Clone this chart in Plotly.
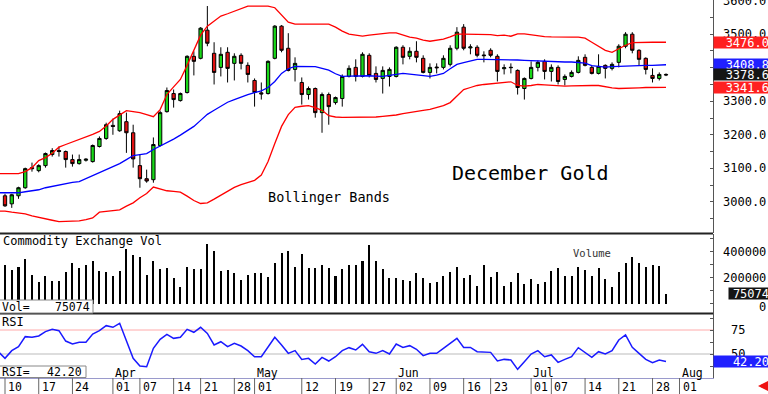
import pandas as pd
import plotly.graph_objects as go

# ---------------- calendar ----------------
holidays = ["2025-04-18", "2025-05-26", "2025-06-19", "2025-07-04"]
sessions = [d.strftime("%Y-%m-%d") for d in pd.bdate_range("2025-03-07", "2025-08-01")
            if d.strftime("%Y-%m-%d") not in holidays]
pos = {d: i for i, d in enumerate(sessions)}
line_dates = sessions[:100]   # Mar 07 .. Jul 30 (indicator lines)
bar_dates = sessions[1:100]   # Mar 10 .. Jul 30 (candles / volume)

# ---------------- data ----------------
opens = [3018, 2994, 3018, 3042, 3102, 3093, 3108, 3141, 3153, 3150,
         3126, 3114, 3124, 3120, 3165, 3189, 3228, 3212, 3239, 3206,
         3108, 3069, 3066, 3168, 3269, 3323, 3302, 3326, 3434, 3428,
         3512, 3443, 3401, 3446, 3413, 3437, 3407, 3362, 3325, 3323,
         3428, 3524, 3458, 3395, 3356, 3320, 3338, 3266, 3320, 3296,
         3308, 3374, 3401, 3374, 3437, 3383, 3368, 3374, 3374, 3461,
         3434, 3449, 3428, 3386, 3402, 3401, 3410, 3458, 3521, 3459,
         3461, 3438, 3452, 3434, 3397, 3400, 3392, 3338, 3368, 3401,
         3419, 3389, 3401, 3365, 3374, 3386, 3431, 3401, 3383, 3407,
         3398, 3416, 3464, 3500, 3452, 3428, 3377, 3368, 3380]
highs = [3024, 3024, 3045, 3102, 3117, 3112, 3147, 3160, 3165, 3153,
         3141, 3141, 3130, 3171, 3195, 3236, 3248, 3272, 3266, 3230,
         3141, 3096, 3192, 3272, 3341, 3335, 3326, 3437, 3449, 3521,
         3584, 3476, 3461, 3461, 3443, 3443, 3416, 3368, 3356, 3422,
         3527, 3527, 3503, 3431, 3371, 3344, 3341, 3326, 3326, 3314,
         3380, 3407, 3425, 3446, 3443, 3404, 3404, 3401, 3464, 3467,
         3461, 3479, 3437, 3413, 3413, 3437, 3467, 3521, 3530, 3470,
         3467, 3449, 3458, 3440, 3410, 3413, 3395, 3371, 3419, 3422,
         3425, 3410, 3407, 3380, 3392, 3434, 3440, 3407, 3440, 3410,
         3416, 3470, 3506, 3506, 3455, 3431, 3398, 3386, 3383]
lows = [2985, 2982, 3009, 3039, 3090, 3088, 3102, 3135, 3135, 3102,
        3105, 3111, 3120, 3117, 3162, 3185, 3200, 3209, 3146, 3102,
        3042, 3057, 3057, 3165, 3266, 3281, 3299, 3323, 3377, 3425,
        3464, 3350, 3374, 3356, 3362, 3395, 3356, 3284, 3305, 3320,
        3425, 3446, 3389, 3359, 3290, 3305, 3251, 3206, 3230, 3290,
        3284, 3371, 3359, 3371, 3371, 3356, 3323, 3344, 3371, 3410,
        3425, 3416, 3383, 3368, 3383, 3395, 3404, 3452, 3452, 3440,
        3431, 3416, 3431, 3359, 3380, 3383, 3320, 3305, 3365, 3389,
        3365, 3359, 3350, 3347, 3371, 3383, 3404, 3380, 3380, 3368,
        3392, 3401, 3458, 3443, 3407, 3380, 3356, 3362, 3375]
closes = [2988, 3021, 3042, 3099, 3099, 3108, 3144, 3153, 3150, 3126,
          3114, 3126, 3127, 3168, 3189, 3230, 3225, 3263, 3206, 3128,
          3069, 3062, 3171, 3266, 3332, 3305, 3323, 3434, 3419, 3518,
          3473, 3386, 3440, 3398, 3434, 3413, 3380, 3326, 3322, 3419,
          3524, 3452, 3392, 3413, 3320, 3338, 3266, 3320, 3284, 3311,
          3374, 3398, 3374, 3440, 3377, 3365, 3392, 3395, 3461, 3431,
          3449, 3431, 3386, 3401, 3400, 3428, 3458, 3506, 3458, 3462,
          3437, 3436, 3437, 3389, 3400, 3401, 3341, 3368, 3401, 3416,
          3389, 3401, 3359, 3374, 3386, 3422, 3407, 3383, 3404, 3398,
          3410, 3464, 3500, 3452, 3425, 3395, 3368, 3380, 3378.6]
volume = [296000, 258000, 283000, 342000, 219000, 163000, 212000, 173000, 173000, 245000,
          309000, 275000, 298000, 329000, 250000, 245000, 214000, 250000, 419000, 373000,
          360000, 219000, 327000, 263000, 271000, 199000, 129000, 278000, 263000, 263000,
          458000, 404000, 252000, 258000, 232000, 181000, 219000, 237000, 232000, 206000,
          309000, 386000, 406000, 283000, 381000, 271000, 271000, 294000, 275000, 214000,
          263000, 294000, 296000, 329000, 450000, 327000, 263000, 194000, 194000, 181000,
          176000, 237000, 199000, 160000, 168000, 214000, 245000, 283000, 199000, 219000,
          135000, 296000, 206000, 245000, 135000, 168000, 237000, 150000, 186000, 148000,
          168000, 252000, 271000, 214000, 214000, 278000, 258000, 212000, 271000, 186000,
          129000, 240000, 309000, 360000, 309000, 283000, 296000, 291000, 75074]
rsi = [52.5,
       45.5, 53.5, 57.6, 68.1, 67.4, 68.8, 73.3, 75.7, 74.3, 63.5,
       60.4, 62.2, 62.2, 70.8, 74.3, 79.5, 77.8, 82.0, 64.6, 45.5,
       37.5, 36.8, 55.9, 65.3, 70.5, 66.3, 67.4, 75.7, 72.6, 77.8,
       71.5, 59.4, 62.8, 57.6, 61.1, 58.3, 53.5, 47.2, 47.2, 56.9,
       67.4, 59.4, 50.7, 53.5, 44.4, 45.5, 39.6, 46.5, 42.7, 47.2,
       53.5, 56.6, 54.2, 60.1, 52.4, 50.7, 53.5, 50.0, 60.4, 56.9,
       58.7, 54.9, 48.3, 50.7, 50.7, 55.9, 61.1, 66.3, 56.9, 56.9,
       52.4, 52.4, 51.7, 42.7, 44.4, 43.8, 34.0, 42.0, 50.0, 53.5,
       47.2, 49.0, 41.3, 44.4, 47.2, 56.6, 51.7, 46.5, 52.4, 50.0,
       53.5, 64.6, 69.8, 56.9, 50.7, 44.4, 41.0, 43.8, 42.2]
bb_upper = [3084,
            3084, 3084, 3084, 3090, 3102, 3123, 3132, 3145, 3163, 3171,
            3178, 3186, 3193, 3201, 3210, 3226, 3246, 3260, 3272, 3269,
            3266, 3260, 3254, 3275, 3320, 3343, 3365, 3407, 3452, 3497,
            3524, 3540, 3554, 3561, 3569, 3578, 3584, 3584, 3584, 3584,
            3579, 3557, 3536, 3530, 3530, 3530, 3530, 3530, 3530, 3521,
            3509, 3500, 3497, 3494, 3497, 3500, 3503, 3504, 3504, 3497,
            3491, 3488, 3482, 3479, 3482, 3485, 3492, 3500, 3500, 3500,
            3500, 3500, 3499, 3496, 3497, 3494, 3501, 3501, 3498, 3494,
            3493, 3492, 3491, 3491, 3491, 3491, 3488, 3476, 3464, 3452,
            3446, 3457, 3467, 3475, 3476, 3476, 3476, 3476, 3476.0]
bb_mid = [3027,
          3027, 3027, 3027, 3030, 3033, 3036, 3042, 3046, 3051, 3056,
          3058, 3060, 3069, 3078, 3087, 3096, 3106, 3114, 3126, 3138,
          3141, 3144, 3156, 3166, 3177, 3187, 3199, 3211, 3225, 3243,
          3261, 3273, 3285, 3297, 3305, 3313, 3320, 3326, 3331, 3341,
          3359, 3383, 3397, 3404, 3404, 3404, 3403, 3398, 3393, 3382,
          3374, 3375, 3376, 3377, 3376, 3375, 3374, 3377, 3380, 3383,
          3381, 3378, 3376, 3374, 3378, 3383, 3397, 3410, 3415, 3420,
          3425, 3425, 3425, 3425, 3425, 3425, 3423, 3422, 3421, 3419,
          3419, 3418, 3418, 3417, 3417, 3416, 3414, 3406, 3404, 3402,
          3403, 3404, 3405, 3407, 3407, 3407, 3407, 3408, 3408.8]
bb_lower = [2972,
            2972, 2969, 2967, 2964, 2958, 2953, 2949, 2945, 2941, 2941,
            2942, 2943, 2947, 2952, 2969, 2972, 2974, 2976, 2987, 2997,
            3012, 3025, 3044, 3039, 3033, 3031, 3029, 3017, 3004, 2995,
            2997, 3008, 3020, 3032, 3043, 3051, 3058, 3064, 3080, 3120,
            3174, 3225, 3260, 3282, 3285, 3287, 3281, 3273, 3257, 3253,
            3252, 3252, 3251, 3251, 3252, 3253, 3255, 3256, 3259, 3263,
            3267, 3269, 3273, 3276, 3281, 3287, 3296, 3317, 3335, 3341,
            3347, 3350, 3352, 3355, 3356, 3358, 3347, 3345, 3347, 3350,
            3349, 3347, 3345, 3345, 3346, 3347, 3347, 3347, 3347, 3343,
            3340, 3338, 3338, 3339, 3340, 3341, 3341, 3341, 3341.6]

tick_dates = ["2025-03-10", "2025-03-17", "2025-03-24", "2025-04-01", "2025-04-07",
              "2025-04-14", "2025-04-21", "2025-04-28", "2025-05-01", "2025-05-12",
              "2025-05-19", "2025-05-27", "2025-06-02", "2025-06-09", "2025-06-16",
              "2025-06-23", "2025-07-01", "2025-07-07", "2025-07-14", "2025-07-21",
              "2025-07-28", "2025-08-01"]
month_starts = ["2025-04-01", "2025-05-01", "2025-06-02", "2025-07-01", "2025-08-01"]
month_labels = ["Apr", "May", "Jun", "Jul", "Aug"]
price_ticks = [3000, 3100, 3200, 3300, 3500, 3600]   # 3400 sits under the value boxes
volume_ticks = [400000, 200000, 0]
rsi_ticks = [75, 50]

# ---------------- geometry helpers (layout only) ----------------
W, H = 768, 394
PW, PH = 713, 378
FONT = "DejaVu Sans Mono"


def xp(px):
    return px / PW


def yp(py):
    return (PH - py) / PH


x_line = [pos[d] for d in line_dates]
x_bar = [pos[d] for d in bar_dates]

fig = go.Figure()

fig.add_trace(go.Candlestick(
    x=x_bar, open=opens, high=highs, low=lows, close=closes,
    increasing=dict(line=dict(color="#000000", width=1), fillcolor="#18d818"),
    decreasing=dict(line=dict(color="#000000", width=1), fillcolor="#e01010"),
    whiskerwidth=0, showlegend=False, xaxis="x", yaxis="y", hoverinfo="skip"))

fig.add_trace(go.Scatter(x=x_line, y=bb_upper, mode="lines", line=dict(color="#ff0000", width=1.3),
                         showlegend=False, xaxis="x", yaxis="y", hoverinfo="skip"))
fig.add_trace(go.Scatter(x=x_line, y=bb_lower, mode="lines", line=dict(color="#ff0000", width=1.3),
                         showlegend=False, xaxis="x", yaxis="y", hoverinfo="skip"))
fig.add_trace(go.Scatter(x=x_line, y=bb_mid, mode="lines", line=dict(color="#0000ff", width=1.3),
                         showlegend=False, xaxis="x", yaxis="y", hoverinfo="skip"))

fig.add_trace(go.Bar(x=x_bar, y=volume, width=0.3, marker=dict(color="#000000", line=dict(width=0)),
                     showlegend=False, xaxis="x", yaxis="y2", hoverinfo="skip"))

fig.add_trace(go.Scatter(x=x_line, y=rsi, mode="lines", line=dict(color="#1a1aff", width=1.5),
                         showlegend=False, xaxis="x", yaxis="y3", hoverinfo="skip"))

shapes = []
# RSI reference lines
shapes.append(dict(type="line", xref="paper", yref="y3", x0=0, x1=1, y0=75, y1=75,
                   line=dict(color="#ffaaaa", width=1), layer="below"))
shapes.append(dict(type="line", xref="paper", yref="y3", x0=0, x1=1, y0=50, y1=50,
                   line=dict(color="#bbbbbb", width=1), layer="below"))
# panel separators
for py in (233.5, 313.5):
    shapes.append(dict(type="line", xref="paper", yref="paper", x0=0, x1=1, y0=yp(py), y1=yp(py),
                       line=dict(color="#222222", width=2), layer="above"))
# left value boxes
shapes.append(dict(type="rect", xref="paper", yref="paper", x0=xp(-2), x1=xp(93), y0=yp(313), y1=yp(300),
                   fillcolor="#ffffff", line=dict(color="#888888", width=1), layer="above"))
shapes.append(dict(type="rect", xref="paper", yref="paper", x0=xp(-2), x1=xp(86), y0=yp(377.5), y1=yp(366),
                   fillcolor="#ffffff", line=dict(color="#888888", width=1), layer="above"))
# date tick lines
for d in tick_dates:
    shapes.append(dict(type="line", xref="x", yref="paper", x0=pos[d], x1=pos[d], y0=yp(378), y1=yp(394),
                       line=dict(color="#666666", width=1)))

ann = []


def text(x, y, s, size=12, color="#000000", xanchor="left", xref="paper", yref="paper", **kw):
    ann.append(dict(x=x, y=y, xref=xref, yref=yref, text=s, showarrow=False, xanchor=xanchor,
                    yanchor="middle", font=dict(family=FONT, size=size, color=color), **kw))


text(xp(450), yp(173), "December Gold", size=20)
text(xp(266), yp(197), "Bollinger Bands", size=13.5)
text(xp(1), yp(241), "Commodity Exchange Vol", size=12)
text(xp(571), yp(253), "Volume", size=10.5, color="#333333")
text(xp(0), yp(322), "RSI", size=12)
text(xp(0), yp(307), "Vol=", size=11.5)
text(xp(92), yp(307), f"{volume[-1]}", size=11.5, xanchor="right")
text(xp(0), yp(371.5), "RSI=", size=11.5)
text(xp(84), yp(371.5), f"{rsi[-1]:.2f}", size=11.5, xanchor="right")

for d, m in zip(month_starts, month_labels):
    text(pos[d], yp(372.5), m, size=11.5, xref="x", xshift=0)
for d in tick_dates:
    text(pos[d], yp(386.5), d[8:10], size=11.5, xref="x", xshift=1)

# right axis labels
for v in price_ticks:
    text(xp(768), v, f"{v:.1f}", size=12, xanchor="right", yref="y")
for v in volume_ticks:
    text(xp(768), v, f"{v}", size=12, xanchor="right", yref="y2", yshift=(-3 if v == 0 else 0))
for v in rsi_ticks:
    text(xp(729), v, f"{v}", size=12, yref="y3")

# value boxes on right
for v, c in [(bb_upper[-1], "#ff2020"), (bb_mid[-1], "#2020ff"), (closes[-1], "#151515"), (bb_lower[-1], "#ff2020")]:
    ann.append(dict(x=1, y=v, xref="paper", yref="y", text=f"{v:.1f}", showarrow=False, xanchor="left",
                    yanchor="middle", bgcolor=c, width=55, height=11, align="right", borderpad=0,
                    font=dict(family=FONT, size=12, color="#ffffff")))
ann.append(dict(x=xp(728), y=volume[-1], xref="paper", yref="y2", text=f"{volume[-1]}", showarrow=False,
                xanchor="left", yanchor="middle", bgcolor="#151515", width=40, height=11, align="right",
                borderpad=0, font=dict(family=FONT, size=12, color="#ffffff")))
ann.append(dict(x=1, y=rsi[-1], xref="paper", yref="y3", text=f"{rsi[-1]:.2f}", showarrow=False,
                xanchor="left", yanchor="middle", bgcolor="#2020ff", width=55, height=11, align="right",
                borderpad=0, font=dict(family=FONT, size=12, color="#ffffff")))
# little red arrow bottom right
ann.append(dict(x=xp(758), y=yp(386), xref="paper", yref="paper", text="", showarrow=True,
                ax=10, ay=0, arrowhead=2, arrowsize=0.9, arrowwidth=3, arrowcolor="#ee1111"))

fig.update_layout(
    width=W, height=H,
    margin=dict(l=0, r=W - PW, t=0, b=H - PH),
    paper_bgcolor="#ffffff", plot_bgcolor="#ffffff",
    showlegend=False, bargap=0,
    xaxis=dict(range=[1 - 5 / 6.745, 1 + (PW - 5) / 6.745], showgrid=False, zeroline=False,
               showticklabels=False, ticks="", showline=True, linecolor="#9a9acc", linewidth=1,
               anchor="y3", rangeslider=dict(visible=False), fixedrange=True),
    yaxis=dict(domain=[yp(233), 1], range=[2907, 3602], side="right", showgrid=False, zeroline=False,
               showticklabels=False, ticks="inside", ticklen=3, dtick=50, tick0=0, tickcolor="#555555",
               showline=True, linecolor="#555555", linewidth=1, anchor="x"),
    yaxis2=dict(domain=[yp(314), yp(234)], range=[-80769, 534615], side="right", showgrid=False,
                zeroline=False, showticklabels=False, ticks="inside", ticklen=3, dtick=100000,
                tickcolor="#555555", showline=True, linecolor="#555555", linewidth=1, anchor="x"),
    yaxis3=dict(domain=[0, yp(314)], range=[25, 91.67], side="right", showgrid=False, zeroline=False,
                showticklabels=False, ticks="inside", ticklen=3, dtick=12.5, tick0=0, tickcolor="#555555",
                showline=True, linecolor="#555555", linewidth=1, anchor="x"),
    shapes=shapes, annotations=ann,
)

fig.write_html("out.html", config={"displayModeBar": False},
               post_script="document.body.style.margin='0';document.body.style.padding='0';"
                           "document.body.style.overflow='hidden';")
